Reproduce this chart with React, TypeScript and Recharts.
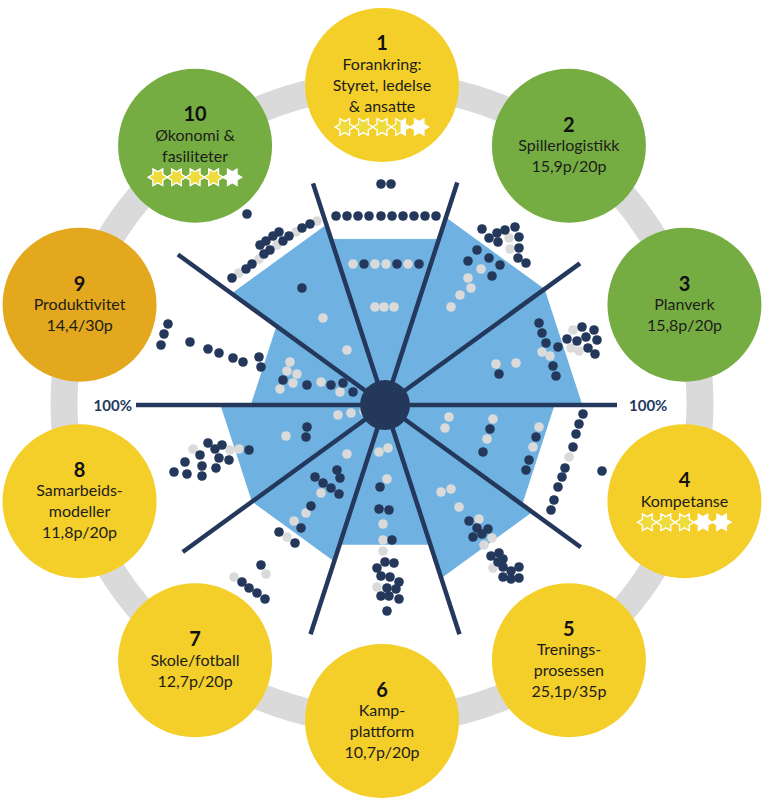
import React from 'react';
import { ScatterChart, Scatter, XAxis, YAxis } from 'recharts';

// colours
const NAVY = '#24385c';
const BLUE = '#6fb2e2';
const LIGHT_GRAY = '#dadada';
const YELLOW = '#f4cf2a';
const GREEN = '#76ad42';
const ORANGE = '#e3a81d';
const STAR_YELLOW = '#eedb3c';
const TEXT = '#1d1d1b';
const FONT = 'Lato, "Open Sans", sans-serif';

// --- data ---
const categoryNumbers = ['1', '2', '3', '4', '5', '6', '7', '8', '9', '10'];
const categoryLines = [
  ['Forankring:', 'Styret, ledelse', '& ansatte'],
  ['Spillerlogistikk', '15,9p/20p'],
  ['Planverk', '15,8p/20p'],
  ['Kompetanse'],
  ['Trenings-', 'prosessen', '25,1p/35p'],
  ['Kamp-', 'plattform', '10,7p/20p'],
  ['Skole/fotball', '12,7p/20p'],
  ['Samarbeids-', 'modeller', '11,8p/20p'],
  ['Produktivitet', '14,4/30p'],
  ['Økonomi &', 'fasiliteter'],
];
const starRatings: (number | null)[] = [3.5, null, null, 3, null, null, null, null, null, 4];
const circleColors = [YELLOW, GREEN, GREEN, YELLOW, YELLOW, YELLOW, YELLOW, YELLOW, ORANGE, GREEN];

// share of the 100% spoke that the blue area reaches in each sector
const fillPct = [69, 78, 78, 67, 72, 58, 65, 65, 53, 75];

// spokes sit between the categories, 18° + 36° * i (clockwise from top); length in px from hub
const spokeLength = [234, 241, 232, 242, 241, 241, 250, 249, 256, 233];

// individual dots, offset from the hub (x right, y down)
const navyDots: [number, number][] = [
  // 1
  [-4, -221], [6, -221],
  [-49, -189], [-38, -189], [-27, -189], [-16, -189], [-4, -189], [7, -189], [18, -189], [29, -189], [40, -189], [51, -189],
  [-21, -141], [12, -141], [34, -141],
  // 2
  [97, -176], [112, -172], [120, -175], [130, -178], [104, -167], [113, -163], [134, -168], [134, -157], [133, -147],
  [141, -142], [92, -155], [83, -144], [104, -147], [115, -140], [107, -129],
  // 3
  [154, -82], [157, -72], [161, -62], [173, -58], [168, -39], [171, -29], [197, -78], [209, -75], [182, -66], [192, -64],
  [201, -68], [212, -65], [203, -57], [210, -51], [114, -31],
  // 4
  [151, 32], [144, 55], [141, 65], [198, 9], [194, 19], [191, 29], [188, 42], [180, 63], [177, 72], [173, 82], [169, 95],
  [166, 105], [217, 66],
  // 5
  [105, 24], [98, 47], [84, 116], [92, 123], [103, 124], [88, 132], [97, 129], [106, 151], [114, 148], [113, 157],
  [118, 154], [118, 162], [126, 166], [134, 162], [118, 172], [126, 174], [134, 173],
  // 6
  [-5, 82], [-6, 104], [4, 105], [7, 135], [0, 157], [9, 158], [-8, 163], [-4, 171], [5, 172], [14, 177], [2, 183],
  [11, 184], [-4, 191], [4, 191], [14, 194], [2, 206],
  // 7
  [-48, 65], [-45, 73], [-70, 72], [-62, 78], [-54, 83], [-46, 89], [-74, 101], [-84, 123], [-106, 127], [-90, 138],
  [-124, 160], [-143, 177], [-136, 183], [-128, 188], [-120, 194],
  // 8
  [-78, 22], [-79, 32], [-177, 38], [-170, 44], [-163, 40], [-136, 45], [-185, 50], [-166, 53], [-156, 55], [-200, 57],
  [-183, 61], [-169, 63], [-211, 67], [-198, 69], [-183, 71],
  // 9
  [-217, -81], [-221, -71], [-224, -60], [-195, -63], [-177, -56], [-166, -52], [-152, -47], [-142, -43], [-126, -48],
  [-124, -38], [-102, -25], [-78, -20], [-54, -20], [-42, -22], [-32, -13],
  // 10
  [-138, -191], [-153, -127], [-139, -136], [-133, -141], [-121, -151], [-115, -155], [-102, -164], [-96, -169],
  [-83, -177], [-75, -181], [-125, -160], [-119, -164], [-112, -169], [-106, -173], [-83, -117],
];

const grayDots: [number, number][] = [
  // 1
  [-32, -141], [-10, -141], [1, -141], [23, -141], [-10, -98], [-1, -98], [9, -98],
  // 2
  [124, -167], [125, -156], [96, -136], [83, -127], [86, -117], [75, -110], [66, -98],
  // 3
  [157, -53], [165, -49], [188, -75], [186, -57], [194, -54], [111, -41], [131, -42],
  // 4
  [154, 22], [148, 42], [184, 52],
  // 5
  [64, 12], [60, 23], [108, 14], [102, 34], [56, 87], [66, 84], [74, 102], [94, 114], [107, 133], [99, 140], [108, 163],
  // 6
  [-6, 47], [3, 43], [2, 74], [-2, 119], [-2, 135], [-2, 146], [-8, 182],
  // 7
  [-38, 49], [-64, 88], [-79, 108], [-91, 116], [-98, 132], [-119, 169], [-151, 172],
  // 8
  [-47, 10], [-34, 8], [-21, 6], [-99, 31], [-192, 44], [-155, 45], [-146, 44],
  // 9
  [-95, -43], [-98, -34], [-88, -31], [-92, -22], [-105, -16], [-64, -23], [-45, -13],
  // 10
  [-146, -132], [-126, -146], [-108, -160], [-89, -173], [-68, -184], [-62, -87], [-38, -55],
];

// --- layout ---
const W = 768;
const H = 809;
const HUB_X = 385;
const HUB_Y = 405;
const FULL = 240; // px of a 100% spoke
const RING_X = -3; // ring centre relative to hub
const RING_Y = -2;
const RING_R = 318;
const CIRCLE_R = 77;
const ROW = 21;
const deg = Math.PI / 180;

const polygonData = fillPct.flatMap((pct, k) => {
  const r = ((pct / 100) * FULL) / Math.cos(18 * deg);
  return [k * 36 - 18, k * 36 + 18].map((a) => ({ x: r * Math.sin(a * deg), y: -r * Math.cos(a * deg) }));
});

const spokeData = spokeLength.map((len, j) => {
  const a = (18 + 36 * j) * deg;
  return [
    { x: 0, y: 0 },
    { x: len * Math.sin(a), y: -len * Math.cos(a) },
  ];
});

const circleData = categoryNumbers.map((n, i) => ({
  x: RING_X + RING_R * Math.sin(i * 36 * deg),
  y: RING_Y - RING_R * Math.cos(i * 36 * deg),
  i,
}));

const labelData = [
  { x: -spokeLength[7], y: 0, anchor: 'end', dx: -4 },
  { x: spokeLength[2], y: 0, anchor: 'start', dx: 12 },
];

const toPoints = (arr: [number, number][]) => arr.map(([x, y]) => ({ x, y }));

const noShape = () => <g />;

const dotShape = (color: string) => (p: any) => <circle cx={p.cx} cy={p.cy} r={4.8} fill={color} />;

const starPath = (cx: number, cy: number, R: number) => {
  const rIn = R / Math.sqrt(3);
  const pts: string[] = [];
  for (let i = 0; i < 12; i++) {
    const a = i * 30 * deg;
    const r = i % 2 === 0 ? R : rIn;
    pts.push(`${(cx + r * Math.cos(a)).toFixed(2)},${(cy + r * Math.sin(a)).toFixed(2)}`);
  }
  return `M${pts.join('L')}Z`;
};

const Stars = ({ cx, cy, rating, id }: { cx: number; cy: number; rating: number; id: number }) => {
  const gap = 18.6;
  return (
    <g>
      {[0, 1, 2, 3, 4].map((k) => {
        const sx = cx + (k - 2) * gap;
        const d = starPath(sx, cy, 9.6);
        const part = Math.max(0, Math.min(1, rating - k));
        const clipId = `star-clip-${id}-${k}`;
        return (
          <g key={k}>
            <path d={d} fill="#fff" stroke="#fff" strokeWidth={1.2} />
            {part > 0 && part < 1 && (
              <clipPath id={clipId}>
                <rect x={sx - 10} y={cy - 10} width={20 * part} height={20} />
              </clipPath>
            )}
            {part > 0 && (
              <path
                d={d}
                fill={STAR_YELLOW}
                stroke="#fff"
                strokeWidth={1.2}
                clipPath={part < 1 ? `url(#${clipId})` : undefined}
              />
            )}
          </g>
        );
      })}
    </g>
  );
};

const CircleShape = (p: any) => {
  const i = p.payload.i;
  const lines = categoryLines[i];
  const rating = starRatings[i];
  const n = 1 + lines.length + (rating != null ? 1 : 0);
  const rowY = (r: number) => p.cy + (r - (n - 1) / 2) * ROW - 1;
  return (
    <g>
      <circle cx={p.cx} cy={p.cy} r={CIRCLE_R} fill={circleColors[i]} />
      <text
        x={p.cx}
        y={rowY(0)}
        textAnchor="middle"
        dominantBaseline="central"
        fontFamily={FONT}
        fontWeight={700}
        fontSize={20}
        fill="#111"
      >
        {categoryNumbers[i]}
      </text>
      {lines.map((t, r) => (
        <text
          key={r}
          x={p.cx}
          y={rowY(r + 1)}
          textAnchor="middle"
          dominantBaseline="central"
          fontFamily={FONT}
          fontSize={16}
          fill={TEXT}
        >
          {t}
        </text>
      ))}
      {rating != null && <Stars cx={p.cx} cy={rowY(n - 1) + 1} rating={rating} id={i} />}
    </g>
  );
};

const RingShape = (p: any) => (
  <circle cx={p.cx} cy={p.cy} r={RING_R} fill="none" stroke={LIGHT_GRAY} strokeWidth={27} />
);

const HubShape = (p: any) => <circle cx={p.cx} cy={p.cy} r={25} fill={NAVY} />;

const LabelShape = (p: any) => (
  <text
    x={p.cx + p.payload.dx}
    y={p.cy}
    textAnchor={p.payload.anchor}
    dominantBaseline="central"
    fontFamily={FONT}
    fontWeight={700}
    fontSize={15}
    fill={NAVY}
  >
    100%
  </text>
);

export default function App() {
  return (
    <div style={{ position: 'absolute', left: 0, top: 0, width: W, height: H, background: '#fff' }}>
      <ScatterChart width={W} height={H} margin={{ top: 0, right: 0, bottom: 0, left: 0 }}>
        <XAxis type="number" dataKey="x" domain={[-HUB_X, W - HUB_X]} allowDataOverflow hide />
        <YAxis type="number" dataKey="y" domain={[-HUB_Y, H - HUB_Y]} allowDataOverflow reversed hide />
        <Scatter data={[{ x: RING_X, y: RING_Y }]} shape={RingShape} isAnimationActive={false} />
        <Scatter
          data={polygonData}
          shape={noShape}
          line={{ fill: BLUE, stroke: BLUE, strokeWidth: 1 }}
          lineType="joint"
          isAnimationActive={false}
        />
        {spokeData.map((d, j) => (
          <Scatter
            key={`spoke-${j}`}
            data={d}
            shape={noShape}
            line={{ stroke: NAVY, strokeWidth: 4.5 }}
            lineType="joint"
            isAnimationActive={false}
          />
        ))}
        <Scatter data={toPoints(grayDots)} shape={dotShape(LIGHT_GRAY)} isAnimationActive={false} />
        <Scatter data={toPoints(navyDots)} shape={dotShape(NAVY)} isAnimationActive={false} />
        <Scatter data={[{ x: 0, y: 0 }]} shape={HubShape} isAnimationActive={false} />
        <Scatter data={circleData} shape={CircleShape} isAnimationActive={false} />
        <Scatter data={labelData} shape={LabelShape} isAnimationActive={false} />
      </ScatterChart>
    </div>
  );
}
